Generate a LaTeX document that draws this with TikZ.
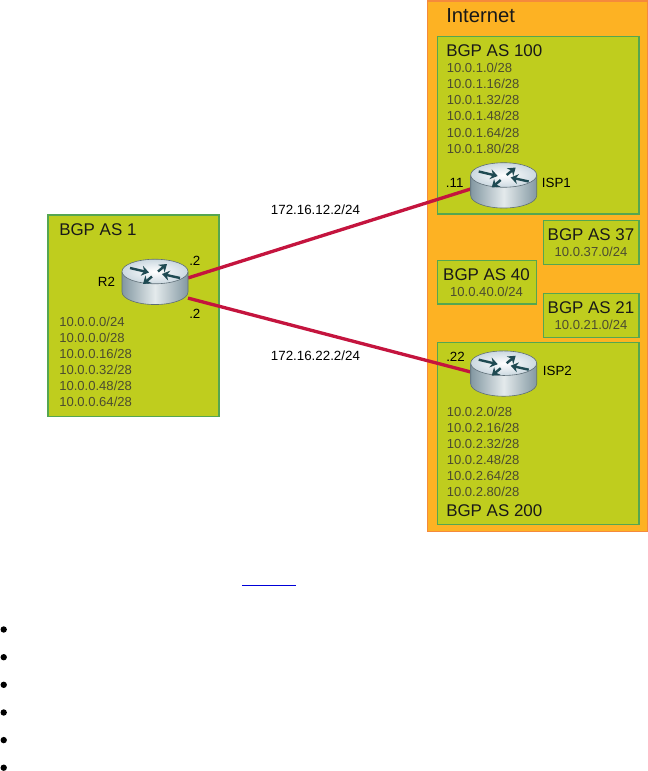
\documentclass[tikz,border=0pt]{standalone}
\usepackage{fontspec}
\setmainfont{Liberation Sans}
\usetikzlibrary{arrows.meta}
\definecolor{inetfill}{HTML}{FDB223}
\definecolor{inetdraw}{HTML}{F58A3C}
\definecolor{asfill}{HTML}{BFCD1E}
\definecolor{asdraw}{HTML}{55A650}
\definecolor{linkred}{HTML}{C4143E}
\definecolor{netgrey}{HTML}{4C4C30}
\definecolor{arrowteal}{HTML}{1F4A52}
\definecolor{rside}{HTML}{8398A2}
\definecolor{rmid}{HTML}{E4EAEC}
\definecolor{redge}{HTML}{CBD8E0}
\definecolor{rline}{HTML}{5E6E76}
\definecolor{linkblue}{HTML}{0000D8}
\tikzset{
  regionbox/.style={draw=asdraw,fill=asfill,line width=1pt,inner sep=0pt,outer sep=0pt},
  title/.style={anchor=base west,inner sep=0pt,font=\fontsize{12.7pt}{14pt}\selectfont,text=black!90},
  titlec/.style={title,anchor=base},
  netlbl/.style={anchor=base west,inner sep=0pt,font=\fontsize{9.8pt}{12pt}\selectfont,text=netgrey},
  netc/.style={netlbl,anchor=base},
  ifl/.style={anchor=base west,inner sep=0pt,font=\fontsize{10pt}{12pt}\selectfont,text=black},
  routerbox/.style={inner sep=0pt,outer sep=0pt,minimum width=49.5pt,minimum height=34.5pt},
  link/.style={draw=linkred,line width=2.5pt},
  bulletdot/.style={circle,fill=black,inner sep=0pt,minimum size=4.8pt},
  rarrow/.style={draw=arrowteal,line width=1.8pt,-{Stealth[length=5.5pt,width=7.5pt]}},
  pics/routerpic/.style={code={
    \path[left color=rside,right color=rside,middle color=rmid,draw=rline,line width=.45pt]
      (-33,-10) -- (-33,10) arc[start angle=180,end angle=360,x radius=24.75pt,y radius=9.4pt] -- (33,-10) -- cycle;
    \path[inner color=white,outer color=redge,draw=rline,line width=.45pt]
      (0,-10.5) ellipse[x radius=24.75pt,y radius=9.2pt];
    \draw[rarrow] (-25,-14) -- (-6,-9.5);
    \draw[rarrow] (3,-10.5) -- (12,-18);
    \draw[rarrow] (25,-4) -- (7,-8);
    \draw[rarrow] (-3,-5.5) -- (-12,2);
  }}
}
\newcommand{\regionat}[5]{%
  \node[regionbox,minimum width={(#4-#2)*0.75pt},minimum height={(#5-#3)*0.75pt}] (#1) at ({(#2+#4)/2},{(#3+#5)/2}) {};}
\begin{document}
\begin{tikzpicture}[x=0.75pt,y=-0.75pt]
\useasboundingbox (0,0) rectangle (648,771);
% Internet
\node[draw=inetdraw,fill=inetfill,line width=1.1pt,inner sep=0pt,outer sep=0pt,minimum width={(647.3-427.5)*0.75pt},minimum height={(531.3-1)*0.75pt}] (inet) at ({(427.5+647.3)/2},{(1+531.3)/2}) {};
\node[anchor=base west,inner sep=0pt,font=\fontsize{15.2pt}{18pt}\selectfont,text=black!90] (inettitle) at (446,22) {Internet};
% regions
\regionat{as100}{437.3}{36.3}{639}{214}
\regionat{as37}{543.3}{220.7}{639}{264.3}
\regionat{as40}{437.3}{260.7}{536.7}{304}
\regionat{as21}{543.3}{293.3}{639}{337.3}
\regionat{as200}{437.3}{342.7}{639}{524.3}
\regionat{as1}{48}{215}{219}{416.7}
% titles
\node[title] (t100) at (446,56.7) {BGP AS 100};
\node[titlec] (t37) at (591,240) {BGP AS 37};
\node[titlec] (t40) at (486.5,280) {BGP AS 40};
\node[titlec] (t21) at (591,313.3) {BGP AS 21};
\node[title] (t200) at (446,516) {BGP AS 200};
\node[title] (t1) at (59,235) {BGP AS 1};
\node[netc] (n37) at (591,256.7) {10.0.37.0/24};
\node[netc] (n40) at (486.5,296) {10.0.40.0/24};
\node[netc] (n21) at (591,329) {10.0.21.0/24};
% subnet lists
\foreach \t [count=\i] in {0,16,32,48,64,80}
  \node[netlbl] (as100n\i) at (446.5,{72.3+16.2*(\i-1)}) {10.0.1.\t/28};
\foreach \t [count=\i] in {0,16,32,48,64,80}
  \node[netlbl] (as200n\i) at (446.5,{416.7+16*(\i-1)}) {10.0.2.\t/28};
\foreach \t [count=\i] in {0.0/24,0.0/28,0.16/28,0.32/28,0.48/28,0.64/28}
  \node[netlbl] (as1n\i) at (59,{326.7+16*(\i-1)}) {10.0.\t};
% routers
\node[routerbox] (r2) at (155,282) {};
\node[routerbox] (isp1) at (503.7,185.5) {};
\node[routerbox] (isp2) at (503.7,373.7) {};
% links
\draw[link] (r2.7) -- (isp1.186);
\draw[link] (r2.-26) -- (isp2.177);
\pic at (r2) {routerpic};
\pic at (isp1) {routerpic};
\pic at (isp2) {routerpic};
% interface and router labels
\node[ifl] (l11) at (445.7,187) {.11};
\node[ifl] (lisp1) at (541.7,187) {ISP1};
\node[ifl] (l22) at (446,361) {.22};
\node[ifl] (lisp2) at (542.7,375.7) {ISP2};
\node[ifl] (lr2) at (97.7,286) {R2};
\node[ifl] (l2a) at (189,265) {.2};
\node[ifl] (l2b) at (189,318.3) {.2};
\node[ifl] (addr1) at (270.7,214.3) {172.16.12.2/24};
\node[ifl] (addr2) at (270.7,360.7) {172.16.22.2/24};
% underline
\coordinate (ula) at (242,585.3);
\coordinate (ulb) at (296,585.3);
\draw[draw=linkblue,line width=1.1pt] (ula) -- (ulb);
% bullets
\foreach \y [count=\i] in {629.5,657.2,684.8,712.5,740.1,767.7}
  \node[bulletdot] (b\i) at (3.7,\y) {};
\end{tikzpicture}
\end{document}
